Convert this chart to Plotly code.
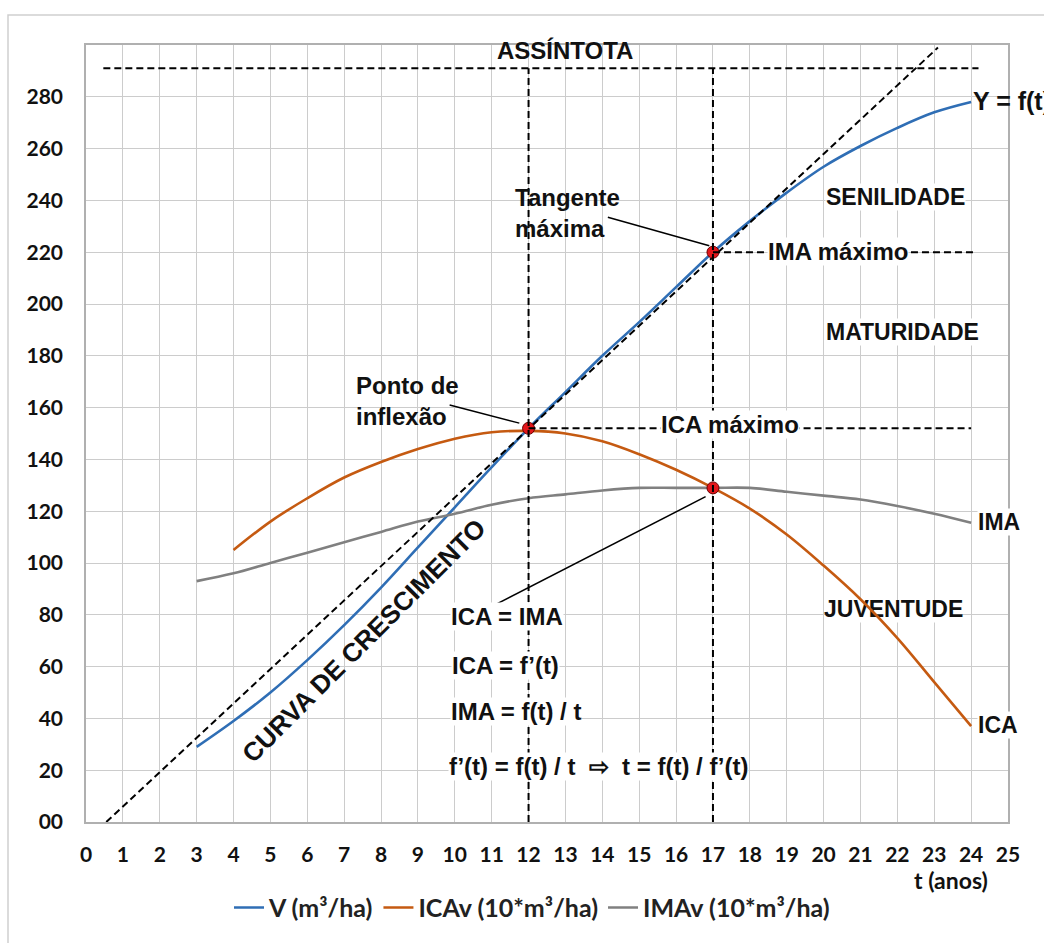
import plotly.graph_objects as go

# ---------------- data ----------------
t_v = list(range(3, 25))
v_vals = [29, 39, 50, 62.5, 76, 90.5, 106, 121.5, 137, 152, 166, 180, 193, 206.5, 220,
          232, 243, 253, 261, 268, 274, 278]
t_ica = list(range(4, 25))
ica_vals = [105, 116, 125, 133, 139, 144, 148, 150.5, 151, 150, 147, 142, 136,
            129, 121, 111, 99, 86, 71, 54, 37]
t_ima = list(range(3, 25))
ima_vals = [93, 96, 100, 104, 108, 112, 116, 119, 122.5, 125, 126.5, 128, 129,
            129, 129, 129, 127.5, 126, 124.5, 122, 119, 115.5]

x_ticks = list(range(0, 26))
y_ticks = list(range(0, 281, 20))
y_ticktext = ["00"] + [str(v) for v in y_ticks[1:]]

asymptote_v = 291
asymptote_t = [0.47, 24.2]
tangent_t = [0.55, 23.1]
tangent_v = [0, 299]
inflexion_t = 12
inflexion_v = 152
ima_max_t = 17
ima_max_v = 220
cross_v = 129
ica_max_line_end = 24.0
ima_max_line_end = 24.1

key_t = [inflexion_t, ima_max_t, ima_max_t]
key_v = [inflexion_v, ima_max_v, cross_v]

BLUE = "#2F6EB5"
ORANGE = "#C55A11"
GRAY = "#808080"
TXT = "Liberation Sans"
NUM = "Lato"

fig = go.Figure()

# JUVENTUDE text drawn beneath the curves (orange line crosses it)
fig.add_trace(go.Scatter(x=[21.9], y=[81.2], mode="text", text=["JUVENTUDE"],
                         textfont=dict(family=TXT, size=23, color="#111", weight="bold"),
                         showlegend=False, hoverinfo="skip"))

fig.add_trace(go.Scatter(x=t_v, y=v_vals, mode="lines", name="V (m³/ha)",
                         line=dict(color=BLUE, width=2.6, shape="spline")))
fig.add_trace(go.Scatter(x=t_ica, y=ica_vals, mode="lines", name="ICAv (10*m³/ha)",
                         line=dict(color=ORANGE, width=2.6, shape="spline")))
fig.add_trace(go.Scatter(x=t_ima, y=ima_vals, mode="lines", name="IMAv (10*m³/ha)",
                         line=dict(color=GRAY, width=2.6, shape="spline")))

DASH = dict(color="black", width=2, dash="7px,4px")
fig.add_trace(go.Scatter(x=tangent_t, y=tangent_v, mode="lines", line=DASH,
                         showlegend=False, hoverinfo="skip"))

shapes = []
shapes.append(dict(type="line", x0=asymptote_t[0], x1=asymptote_t[1], y0=asymptote_v, y1=asymptote_v,
                   line=DASH, layer="above"))
for tt in [inflexion_t, ima_max_t]:
    shapes.append(dict(type="line", x0=tt, x1=tt, y0=0, y1=asymptote_v, line=DASH, layer="above"))
shapes.append(dict(type="line", x0=inflexion_t, x1=ica_max_line_end, y0=inflexion_v, y1=inflexion_v,
                   line=DASH, layer="above"))
shapes.append(dict(type="line", x0=ima_max_t, x1=ima_max_line_end, y0=ima_max_v, y1=ima_max_v,
                   line=DASH, layer="above"))
LEAD = dict(color="black", width=1.5)
shapes.append(dict(type="line", x0=14.15, y0=233.5, x1=16.9, y1=222.5, line=LEAD, layer="above"))
shapes.append(dict(type="line", x0=9.86, y0=161, x1=11.75, y1=154, line=LEAD, layer="above"))
shapes.append(dict(type="line", x0=11.14, y0=84.2, x1=16.8, y1=125.6, line=LEAD, layer="above"))
shapes.append(dict(type="rect", x0=20.05, x1=23.75, y0=77, y1=85.6, fillcolor="white",
                   line=dict(width=0), layer="between"))
shapes.append(dict(type="rect", xref="paper", yref="paper", x0=(8 - 86) / 922, x1=1.1,
                   y0=-0.2, y1=1 + 30 / 779, line=dict(color="#cfcfcf", width=1.5), layer="below"))

fig.add_trace(go.Scatter(x=key_t, y=key_v, mode="markers", showlegend=False, hoverinfo="skip",
                         marker=dict(size=12, color="#E3161B", line=dict(color="#6b0000", width=1))))

F = dict(family=TXT, size=23, color="#111", weight="bold")
F24 = dict(family=TXT, size=24, color="#111", weight="bold")
ann = []
def A(text, x, y, xanchor="left", bg=None, **kw):
    d = dict(text=text, x=x, y=y, xref="x", yref="y", showarrow=False, xanchor=xanchor,
             yanchor="middle", font=kw.pop("font", F), align="left")
    if bg:
        d["bgcolor"] = bg
        d["borderpad"] = 0
    d.update(kw)
    ann.append(d)

A("ASSÍNTOTA", 13.0, 298, xanchor="center", font=F24)
A("Y = f(t)", 24.0, 278.5, font=dict(family=TXT, size=25, color="#111", weight="bold"))
A("SENILIDADE", 21.94, 241.4, xanchor="center", bg="white")
A("MATURIDADE", 22.15, 189, xanchor="center", bg="white")
A("IMA", 24.16, 115.9, bg="white")
A("ICA", 24.16, 37.3, bg="white")
A("Tangente<br>máxima", 11.58, 235.3, font=F24)
A("Ponto de<br>inflexão", 7.27, 162.5, font=F24)
A("ICA máximo", 15.56, 153.3, bg="white", font=F24)
A("IMA máximo", 18.47, 220.3, bg="white", font=F24)
A("ICA = IMA", 9.88, 79.3, bg="white", font=F24)
A("ICA = f’(t)", 9.9, 60.5, bg="white", font=F24)
A("IMA = f(t) / t", 9.88, 42.7, bg="white", font=F24)
A("f’(t) = f(t) / t &nbsp;⇨&nbsp; t = f(t) / f’(t)", 9.82, 21.6, bg="white", font=F24)
A("CURVA DE CRESCIMENTO", 7.52, 70.0, xanchor="center",
  font=dict(family=TXT, size=26, color="#111", weight="bold"), textangle=-45)
ann.append(dict(text="t (anos)", xref="paper", yref="paper", x=(990 - 86) / 922, y=-(882 - 824) / 779,
                xanchor="right", yanchor="middle", showarrow=False,
                font=dict(family=NUM, size=23, color="#111", weight="bold")))

fig.update_layout(
    width=1044, height=943,
    margin=dict(l=86, r=36, t=45, b=119),
    paper_bgcolor="white", plot_bgcolor="white",
    shapes=shapes, annotations=ann,
    showlegend=True,
    legend=dict(orientation="h", x=(532 - 86) / 922, xanchor="center", y=-(910 - 824) / 779,
                yanchor="middle",
                font=dict(family=NUM, size=25, color="#222", weight="bold"),
                bgcolor="rgba(0,0,0,0)"),
    xaxis=dict(range=[0, 25], tickvals=x_ticks, showgrid=True, gridcolor="#cccccc", gridwidth=1,
               showline=True, linecolor="#b0b0b0", linewidth=1.5, mirror=True, zeroline=False,
               ticks="", tickfont=dict(family=NUM, size=21, color="#111", weight="bold"),
               ticklabelstandoff=13),
    yaxis=dict(range=[0, 300], tickvals=y_ticks, ticktext=y_ticktext, showgrid=True,
               gridcolor="#cccccc", gridwidth=1, showline=True, linecolor="#b0b0b0",
               linewidth=1.5, mirror=True, zeroline=False, ticks="",
               tickfont=dict(family=NUM, size=21, color="#111", weight="bold"),
               ticklabelstandoff=17),
)
fig.write_html("out.html", config={"displayModeBar": False},
               post_script="document.body.style.margin='0px';")
